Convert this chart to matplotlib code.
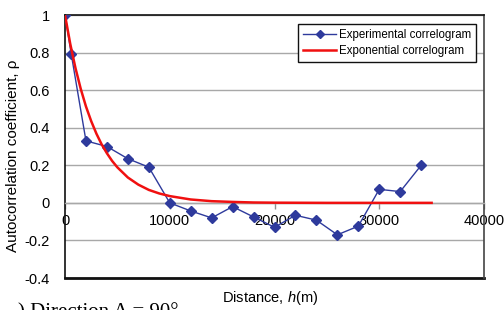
import numpy as np
import matplotlib
matplotlib.use('Agg')
import matplotlib.pyplot as plt

plt.rcParams['font.family'] = ['Liberation Sans', 'DejaVu Sans']
plt.rcParams['mathtext.fontset'] = 'custom'
plt.rcParams['mathtext.it'] = 'Liberation Sans:italic'
plt.rcParams['mathtext.rm'] = 'Liberation Sans'

# experimental correlogram
lag_exp = [0, 600, 2000, 4000, 6000, 8000, 10000, 12000, 14000, 16000,
           18000, 20000, 22000, 24000, 26000, 28000, 30000, 32000, 34000]
rho_exp = [1.0, 0.79, 0.33, 0.30, 0.235, 0.19, 0.0, -0.043, -0.08, -0.02,
           -0.075, -0.13, -0.066, -0.092, -0.17, -0.124, 0.072, 0.06, 0.20]

# exponential correlogram
lag_fit = [0, 500, 1000, 1500, 2000, 2500, 3000, 3500, 4000, 4500, 5000,
           6000, 7000, 8000, 9000, 10000, 12000, 14000, 16000, 18000,
           20000, 25000, 30000, 35000]
rho_fit = [1.0, 0.846, 0.717, 0.607, 0.513, 0.435, 0.368, 0.311, 0.264,
           0.223, 0.189, 0.135, 0.097, 0.069, 0.050, 0.036, 0.018, 0.009,
           0.005, 0.002, 0.001, 0.0, 0.0, 0.0]

xticks = [0, 10000, 20000, 30000, 40000]
yticks = [-0.4, -0.2, 0, 0.2, 0.4, 0.6, 0.8, 1]
ylabels = ['-0.4', '-0.2', '0', '0.2', '0.4', '0.6', '0.8', '1']

fig = plt.figure(figsize=(5.04, 3.10), dpi=100)
ax = fig.add_axes([0.129, 0.1032, 0.8313, 0.8484])

ax.plot(lag_exp, rho_exp, '-D', color='#2E3A9C', lw=1.0, ms=5,
        label='Experimental correlogram', zorder=3)
ax.plot(lag_fit, rho_fit, '-', color='#F01010', lw=1.8,
        label='Exponential correlogram', zorder=4)

ax.set_xlim(0, 40000)
ax.set_ylim(-0.4, 1.0)
ax.set_yticks(yticks)
ax.set_yticklabels(ylabels)
ax.set_xticks(xticks)
ax.set_xticklabels([str(t) for t in xticks])
ax.tick_params(axis='y', length=0, pad=11, labelsize=10.5)
ax.tick_params(axis='x', length=4, width=1, color='#909090', pad=4,
               labelsize=10.5, direction='out')

ax.yaxis.grid(True, color='#A8A8A8', lw=1)
ax.set_axisbelow(True)

ax.spines['bottom'].set_position(('data', 0))
ax.spines['bottom'].set_color('#A8A8A8')
ax.spines['bottom'].set_linewidth(1)
for s in ['left', 'top']:
    ax.spines[s].set_color('#111111')
    ax.spines[s].set_linewidth(1.2)
ax.spines['right'].set_color('#444444')
ax.spines['right'].set_linewidth(1.2)
ax.axhline(-0.4, color='#111111', lw=2.0, clip_on=False)

leg = ax.legend(loc='upper right', bbox_to_anchor=(476 / 504, 1 - 24 / 310),
                bbox_transform=fig.transFigure, borderaxespad=0,
                fontsize=8.3, handlelength=2.9, handletextpad=0.2,
                borderpad=0.45, labelspacing=0.3, fancybox=False,
                framealpha=1, edgecolor='#111111', markerscale=0.75)
leg.get_frame().set_linewidth(1.0)

fig.text(13 / 504, 1 - 156 / 310, 'Autocorrelation coefficient, \u03c1',
         rotation=90, ha='center', va='center', fontsize=11)
fig.text(270 / 504, 1 - 298 / 310, 'Distance, $h$(m)',
         ha='center', va='center', fontsize=10.5)
fig.text(18 / 504, 1 - 303 / 310, ') Direction A = 90\u00b0',
         ha='left', va='top', fontsize=15, family='Liberation Serif')

fig.savefig('out.png', dpi=100)
